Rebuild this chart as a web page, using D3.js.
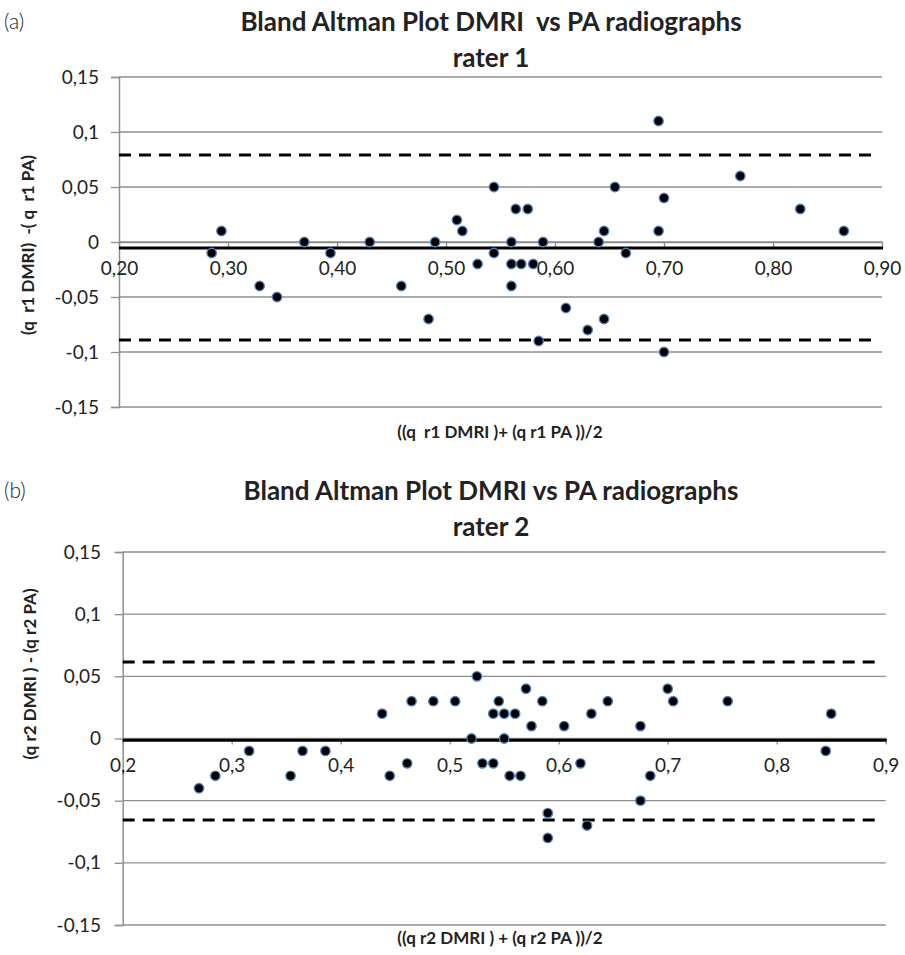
<!DOCTYPE html>
<html>
<head>
<meta charset="utf-8">
<script src="https://cdn.jsdelivr.net/npm/d3@7"></script>
<style>
  body { margin: 0; background: #fff; }
  text { font-family: Lato, "Open Sans", sans-serif; fill: #222; }
</style>
</head>
<body>
<svg id="chart" width="905" height="955"></svg>
<script>
// rater 1: mean of the two methods (x) and difference DMRI - PA (y)
let r1Mean = [0.285, 0.294, 0.329, 0.345, 0.370, 0.394, 0.430, 0.459, 0.484, 0.490,
  0.510, 0.515, 0.529, 0.544, 0.544, 0.560, 0.564, 0.575, 0.560, 0.569,
  0.580, 0.560, 0.589, 0.585, 0.610, 0.630, 0.645, 0.640, 0.645, 0.655,
  0.665, 0.695, 0.770, 0.700, 0.825, 0.695, 0.865, 0.700];
let r1Diff = [-0.01, 0.01, -0.04, -0.05, 0, -0.01, 0, -0.04, -0.07, 0,
  0.02, 0.01, -0.02, 0.05, -0.01, 0, 0.03, 0.03, -0.02, -0.02,
  -0.02, -0.04, 0, -0.09, -0.06, -0.08, -0.07, 0, 0.01, 0.05,
  -0.01, 0.11, 0.06, 0.04, 0.03, 0.01, 0.01, -0.10];
// bias and limits of agreement, rater 1
let r1Lines = { mean: -0.0055, upper: 0.079, lower: -0.089 };

// rater 2
let r2Mean = [0.270, 0.285, 0.316, 0.354, 0.365, 0.386, 0.438, 0.445, 0.461, 0.465,
  0.485, 0.505, 0.520, 0.525, 0.530, 0.540, 0.540, 0.545, 0.550, 0.550,
  0.555, 0.560, 0.565, 0.570, 0.575, 0.585, 0.590, 0.590, 0.605, 0.620,
  0.626, 0.630, 0.645, 0.675, 0.675, 0.684, 0.700, 0.705, 0.755, 0.845, 0.850];
let r2Diff = [-0.04, -0.03, -0.01, -0.03, -0.01, -0.01, 0.02, -0.03, -0.02, 0.03,
  0.03, 0.03, 0, 0.05, -0.02, -0.02, 0.02, 0.03, 0.02, 0,
  -0.03, 0.02, -0.03, 0.04, 0.01, 0.03, -0.06, -0.08, 0.01, -0.02,
  -0.07, 0.02, 0.03, 0.01, -0.05, -0.03, 0.04, 0.03, 0.03, -0.01, 0.02];
let r2Lines = { mean: -0.0015, upper: 0.0615, lower: -0.0656 };

// tick values and their labels (Excel style, decimal comma)
let xTicks = [0.2, 0.3, 0.4, 0.5, 0.6, 0.7, 0.8, 0.9];
let xLabelsA = ["0,20", "0,30", "0,40", "0,50", "0,60", "0,70", "0,80", "0,90"];
let xLabelsB = ["0,2", "0,3", "0,4", "0,5", "0,6", "0,7", "0,8", "0,9"];
let yTicks = [0.15, 0.1, 0.05, 0, -0.05, -0.1, -0.15];
let yLabels = ["0,15", "0,1", "0,05", "0", "-0,05", "-0,1", "-0,15"];

let svg = d3.select("#chart");
svg.append("rect").attr("width", 905).attr("height", 955).attr("fill", "#fff");

function drawPanel(cfg) {
  let g = svg.append("g");

  let xScale = d3.scaleLinear().domain([0.2, 0.9]).range([cfg.left, cfg.right]);
  let yScale = d3.scaleLinear().domain([-0.15, 0.15]).range([cfg.bottom, cfg.top]);

  // horizontal gridlines
  g.selectAll("line.grid").data(yTicks).enter().append("line")
    .attr("class", "grid")
    .attr("x1", cfg.left).attr("x2", cfg.right)
    .attr("y1", d => yScale(d)).attr("y2", d => yScale(d))
    .attr("stroke", "#8e8e8e").attr("stroke-width", 1.3);

  // y axis with ticks on the left
  let yAxis = d3.axisLeft(yScale).tickValues(yTicks).tickSize(8)
    .tickFormat((d, i) => yLabels[i]);
  let ya = g.append("g").attr("transform", "translate(" + cfg.left + ",0)").call(yAxis);
  ya.select(".domain").attr("stroke", "#8e8e8e").attr("stroke-width", 1.5);
  ya.selectAll(".tick line").attr("stroke", "#8e8e8e").attr("stroke-width", 1.3);
  ya.selectAll(".tick text")
    .attr("x", cfg.yLabelEnd - cfg.left)
    .style("font-size", "19px").style("font-family", "Lato").attr("fill", "#222");

  // x axis sits on zero, tick labels hang below
  let xAxis = d3.axisBottom(xScale).tickValues(xTicks).tickSize(6).tickSizeOuter(0)
    .tickFormat((d, i) => cfg.xLabels[i]);
  let xa = g.append("g").attr("transform", "translate(0," + yScale(0) + ")").call(xAxis);
  xa.select(".domain").attr("stroke", "#8e8e8e").attr("stroke-width", 1.3);
  xa.selectAll(".tick line").attr("stroke", "#8e8e8e").attr("stroke-width", 1.3);
  xa.selectAll(".tick text")
    .attr("y", 20)
    .style("font-size", "19px").style("font-family", "Lato").attr("fill", "#222");

  // limits of agreement (dashed) and bias (solid)
  [cfg.lines.upper, cfg.lines.lower].forEach(v => {
    g.append("line")
      .attr("x1", cfg.left).attr("x2", cfg.right - 5)
      .attr("y1", yScale(v)).attr("y2", yScale(v))
      .attr("stroke", "#000").attr("stroke-width", 3)
      .attr("stroke-dasharray", "12,8");
  });
  g.append("line")
    .attr("x1", cfg.left).attr("x2", cfg.right + 1)
    .attr("y1", yScale(cfg.lines.mean)).attr("y2", yScale(cfg.lines.mean))
    .attr("stroke", "#000").attr("stroke-width", 3);

  // points
  let pts = cfg.xs.map((x, i) => ({ x: x, y: cfg.ys[i] }));
  g.selectAll("circle").data(pts).enter().append("circle")
    .attr("cx", d => xScale(d.x))
    .attr("cy", d => yScale(d.y))
    .attr("r", 4.7)
    .attr("fill", "#000")
    .attr("stroke", "#4f81bd").attr("stroke-width", 1.4);

  // titles
  g.append("text").attr("x", 4).attr("y", cfg.titleY - 2)
    .style("font-size", "21px").style("font-weight", "300").text(cfg.tag);
  g.append("text").attr("x", 491).attr("y", cfg.titleY)
    .attr("text-anchor", "middle")
    .style("font-size", "26px").style("font-weight", "bold")
    .text(cfg.title);
  g.append("text").attr("x", 491).attr("y", cfg.titleY + 36)
    .attr("text-anchor", "middle")
    .style("font-size", "26px").style("font-weight", "bold")
    .text(cfg.subtitle);

  // axis titles
  g.append("text")
    .attr("transform", "translate(" + cfg.yTitleX + "," + cfg.yTitleMid + ") rotate(-90)")
    .attr("text-anchor", "middle")
    .style("font-size", "17px").style("font-weight", "bold")
    .text(cfg.yTitle);
  g.append("text").attr("x", 500).attr("y", cfg.xTitleY)
    .attr("text-anchor", "middle")
    .style("font-size", "17px").style("font-weight", "bold")
    .text(cfg.xTitle);
}

drawPanel({
  left: 119, right: 882, top: 77, bottom: 407, yLabelEnd: 99,
  xs: r1Mean, ys: r1Diff, lines: r1Lines, xLabels: xLabelsA,
  tag: "(a)", titleY: 31,
  title: "Bland Altman Plot DMRI\u00a0 vs PA radiographs", subtitle: "rater 1",
  yTitle: "(q\u00a0 r1 DMRI)\u00a0 -( q\u00a0 r1 PA)", yTitleX: 34, yTitleMid: 245,
  xTitle: "((q\u00a0 r1 DMRI )+ (q r1 PA ))/2", xTitleY: 438
});

drawPanel({
  left: 122.7, right: 885.7, top: 552, bottom: 925, yLabelEnd: 101,
  xs: r2Mean, ys: r2Diff, lines: r2Lines, xLabels: xLabelsB,
  tag: "(b)", titleY: 500,
  title: "Bland Altman Plot DMRI vs PA radiographs", subtitle: "rater 2",
  yTitle: "(q r2 DMRI ) - (q r2 PA)", yTitleX: 36, yTitleMid: 674,
  xTitle: "((q r2 DMRI ) + (q r2 PA ))/2", xTitleY: 944
});
</script>
</body>
</html>
